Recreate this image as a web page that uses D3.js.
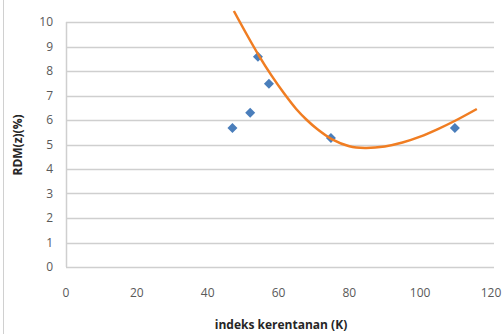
<!DOCTYPE html>
<html>
<head>
<meta charset="utf-8">
<script src="https://cdn.jsdelivr.net/npm/d3@7"></script>
<style>
  body { margin: 0; background: #fff; }
  svg { display: block; font-family: "Open Sans", "Liberation Sans", sans-serif; }
</style>
</head>
<body>
<div id="chart"></div>
<script>
// data points (indeks kerentanan K, RDM %)
const kValues = [47, 52, 54.2, 57.3, 74.8, 109.8];
const rdmValues = [5.67, 6.3, 8.58, 7.48, 5.27, 5.67];

// trendline
const trendK = [47.4, 51, 54.5, 58, 61.5, 65, 68, 71, 75, 80, 84.4, 90, 95, 100, 105, 110, 116];
const trendRdm = [10.45, 9.5, 8.62, 7.82, 7.1, 6.45, 6.0, 5.62, 5.22, 4.93, 4.86, 4.92, 5.08, 5.32, 5.63, 5.98, 6.45];

const xTicks = [0, 20, 40, 60, 80, 100, 120];
const yTicks = [0, 1, 2, 3, 4, 5, 6, 7, 8, 9, 10];

const width = 504, height = 334;
const svg = d3.select('#chart').append('svg')
  .attr('width', width)
  .attr('height', height);

const x = d3.scaleLinear().domain([0, 120]).range([66, 491]);
const y = d3.scaleLinear().domain([0, 10]).range([267, 22]);

// chart border on the left
svg.append('line')
  .attr('x1', 3.5).attr('x2', 3.5)
  .attr('y1', 0).attr('y2', height)
  .style('stroke', '#d0d0d0');

// gridlines
svg.append('g')
  .selectAll('line')
  .data(yTicks)
  .enter()
  .append('line')
  .attr('x1', x(0)).attr('x2', x(120) + 3)
  .attr('y1', d => Math.round(y(d)) + 0.5)
  .attr('y2', d => Math.round(y(d)) + 0.5)
  .style('stroke', '#cfcfcf')
  .style('stroke-width', 1.5);

// vertical axis line
svg.append('line')
  .attr('x1', x(0) + 0.5).attr('x2', x(0) + 0.5)
  .attr('y1', y(10)).attr('y2', y(0))
  .style('stroke', '#cfcfcf')
  .style('stroke-width', 1.5);

// y tick labels
svg.append('g')
  .selectAll('text')
  .data(yTicks)
  .enter()
  .append('text')
  .attr('x', 53)
  .attr('y', d => y(d))
  .attr('dy', '0.35em')
  .style('text-anchor', 'end')
  .style('font-size', '12px')
  .style('fill', '#595959')
  .text(d => d);

// x tick labels
svg.append('g')
  .selectAll('text')
  .data(xTicks)
  .enter()
  .append('text')
  .attr('x', d => x(d))
  .attr('y', 293)
  .attr('dy', '0.35em')
  .style('text-anchor', 'middle')
  .style('font-size', '12px')
  .style('fill', '#595959')
  .text(d => d);

// axis titles
svg.append('text')
  .attr('transform', 'translate(22,145) rotate(-90)')
  .style('text-anchor', 'middle')
  .style('font-size', '12px')
  .style('font-weight', 'bold')
  .style('fill', '#262626')
  .text('RDM(z)(%)');

svg.append('text')
  .attr('x', 281)
  .attr('y', 329)
  .style('text-anchor', 'middle')
  .style('font-size', '12px')
  .style('font-weight', 'bold')
  .style('fill', '#262626')
  .text('indeks kerentanan (K)');

// points
svg.append('g')
  .selectAll('path')
  .data(kValues.map((k, i) => [k, rdmValues[i]]))
  .enter()
  .append('path')
  .attr('d', d3.symbol().type(d3.symbolSquare).size(50))
  .attr('transform', d => `translate(${x(d[0])},${y(d[1])}) rotate(45)`)
  .style('fill', '#4a7ebb');

// trendline
const line = d3.line()
  .x(d => x(d[0]))
  .y(d => y(d[1]))
  .curve(d3.curveCatmullRom);

svg.append('path')
  .datum(trendK.map((k, i) => [k, trendRdm[i]]))
  .attr('d', line)
  .style('fill', 'none')
  .style('stroke', '#f07d22')
  .style('stroke-width', 2.5);
</script>
</body>
</html>
